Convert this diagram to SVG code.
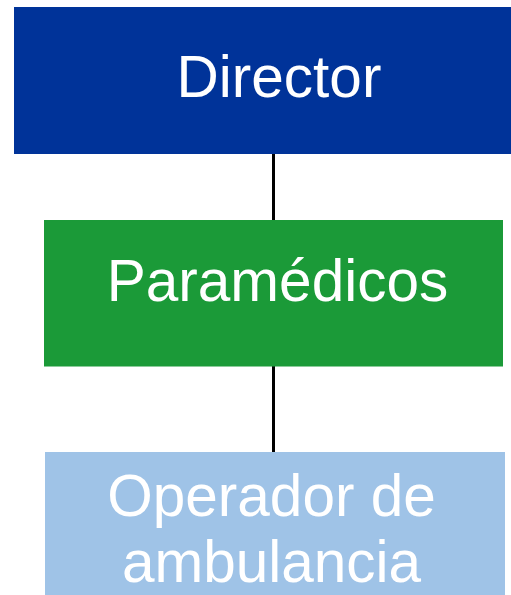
<svg xmlns="http://www.w3.org/2000/svg" width="511" height="595" viewBox="0 0 511 595">
<style>
.t{font-family:"Liberation Sans",Arial,sans-serif;font-size:58.5px;fill:#ffffff;text-anchor:middle}
.c{stroke:#000000;stroke-width:3;fill:none}
</style>
<rect width="511" height="595" fill="#ffffff"/>
<g id="connectors">
<line class="c" x1="273.5" y1="153" x2="273.5" y2="221"/>
<line class="c" x1="273.5" y1="366" x2="273.5" y2="453"/>
</g>
<g id="director">
<rect x="14" y="7" width="497" height="147" fill="#003399"/>
<text class="t" x="279" y="97">Director</text>
</g>
<g id="paramedicos">
<rect x="44" y="220" width="459" height="146.5" fill="#1b9a38"/>
<text class="t" x="277.5" y="300.5">Paramédicos</text>
</g>
<g id="operador">
<rect x="45" y="452" width="460" height="143" fill="#9fc3e7"/>
<text class="t" x="271.5" y="516">Operador de</text>
<text class="t" x="271.5" y="582">ambulancia</text>
</g>
</svg>
